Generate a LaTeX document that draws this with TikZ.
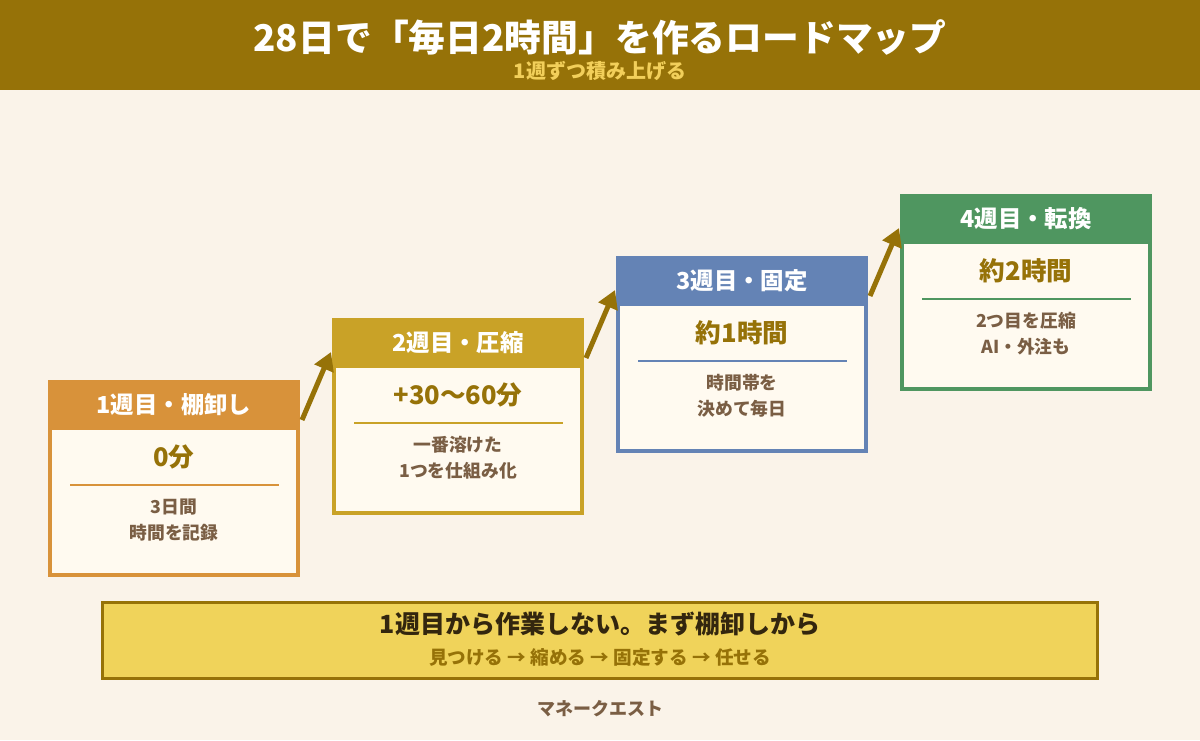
\documentclass[tikz,border=0pt]{standalone}
\usepackage{fontspec}
\newfontfamily\jp{Noto Sans CJK JP}
\usetikzlibrary{arrows.meta}
\definecolor{bg}{HTML}{FAF3E9}
\definecolor{gold}{HTML}{967208}
\definecolor{paper}{HTML}{FFFAF0}
\definecolor{wkone}{HTML}{D8923A}
\definecolor{wktwo}{HTML}{C9A227}
\definecolor{wkthree}{HTML}{6483B5}
\definecolor{wkfour}{HTML}{4F9660}
\definecolor{note}{HTML}{7A5E44}
\definecolor{band}{HTML}{F0D35A}
\definecolor{ink}{HTML}{33260E}
\definecolor{subgold}{HTML}{F2CF5A}
\tikzset{
  frame/.style={draw, line width=2pt, fill=paper, minimum width=124pt, minimum height=96.5pt, inner sep=0pt},
  head/.style={minimum width=126pt, minimum height=25pt, inner sep=0pt, text=white, font=\jp\bfseries\fontsize{11.7}{14}\selectfont},
  value/.style={text=gold, font=\jp\bfseries\fontsize{12.8}{15}\selectfont},
  desc/.style={text=note, align=center, font=\jp\bfseries\fontsize{8.9}{13}\selectfont},
  rise/.style={draw=gold, line width=2.5pt, -{Triangle[length=9pt,width=10pt]}},
}
\begin{document}
\begin{tikzpicture}[x=0.5pt, y=-0.5pt]
	% Background and title band:
	\fill[bg] (0,0) rectangle (1200,740);
	\fill[gold] (0,0) rectangle (1200,90);
	\node[text=white, font=\jp\bfseries\fontsize{18.4}{21}\selectfont] (title) at (600,37){28日で「毎日2時間」を作るロードマップ};
	\node[text=subgold, font=\jp\bfseries\fontsize{10}{12}\selectfont] (subtitle) at (600,71){1週ずつ積み上げる};
	% Week 1:
	\node[frame, draw=wkone] (b1) at (174,478.5){};
	\node[head, fill=wkone] (h1) at (174,405){1週目・棚卸し};
	\node[value] (v1) at (174,457){0分};
	\draw[wkone, line width=1pt] (70,485) -- (279,485);
	\node[desc] (d1) at (174,520){3日間\\時間を記録};
	% Week 2:
	\node[frame, draw=wktwo] (b2) at (458,416.5){};
	\node[head, fill=wktwo] (h2) at (458,343){2週目・圧縮};
	\node[value] (v2) at (458,395){+30〜60分};
	\draw[wktwo, line width=1pt] (354,423) -- (563,423);
	\node[desc] (d2) at (458,458){一番溶けた\\1つを仕組み化};
	% Week 3:
	\node[frame, draw=wkthree] (b3) at (742,354.5){};
	\node[head, fill=wkthree] (h3) at (742,281){3週目・固定};
	\node[value] (v3) at (742,333){約1時間};
	\draw[wkthree, line width=1pt] (638,361) -- (847,361);
	\node[desc] (d3) at (742,396){時間帯を\\決めて毎日};
	% Week 4:
	\node[frame, draw=wkfour] (b4) at (1026,292.5){};
	\node[head, fill=wkfour] (h4) at (1026,219){4週目・転換};
	\node[value] (v4) at (1026,271){約2時間};
	\draw[wkfour, line width=1pt] (922,299) -- (1131,299);
	\node[desc] (d4) at (1026,334){2つ目を圧縮\\AI・外注も};
	% Steps between weeks:
	\draw[rise] ([shift={(2,40)}]b1.north east) -- ([shift={(-1,34)}]b2.north west);
	\draw[rise] ([shift={(2,40)}]b2.north east) -- ([shift={(-1,34)}]b3.north west);
	\draw[rise] ([shift={(2,40)}]b3.north east) -- ([shift={(-1,34)}]b4.north west);
	% Bottom note:
	\node[draw=gold, line width=1.5pt, fill=band, minimum width=497.5pt, minimum height=38pt] (tip) at (600,640.5){};
	\node[text=ink, font=\jp\bfseries\fontsize{12.5}{15}\selectfont] (main) at (600,624){1週目から作業しない。まず棚卸しから};
	\node[text=gold, font=\jp\bfseries\fontsize{9.3}{11}\selectfont] (flow) at (600,657){見つける → 縮める → 固定する → 任せる};
	\node[text=note, font=\jp\bfseries\fontsize{9}{11}\selectfont] (brand) at (600,709){マネークエスト};
\end{tikzpicture}
\end{document}
